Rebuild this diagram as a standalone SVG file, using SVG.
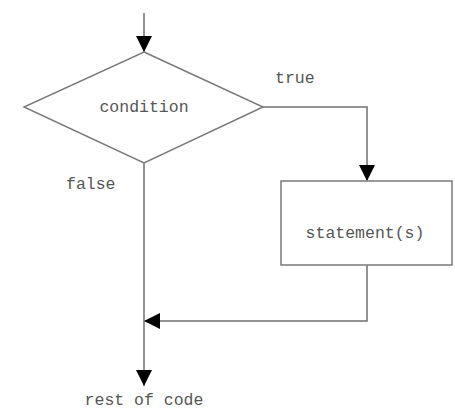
<svg xmlns="http://www.w3.org/2000/svg" width="455" height="409" viewBox="0 0 455 409">
<defs>
<style>
.ln{fill:none;stroke:#707070;stroke-width:1.5}
.sh{fill:#fff;stroke:#7a7a7a;stroke-width:1.5}
.t{font-family:"Liberation Mono","DejaVu Sans Mono",monospace;font-size:16.5px;fill:#555}
</style>
<marker id="ah" viewBox="0 0 10 10" refX="10" refY="5" markerWidth="16" markerHeight="16" markerUnits="userSpaceOnUse" orient="auto">
<path d="M0,0 L10,5 L0,10 Z" fill="#000"/>
</marker>
</defs>
<rect width="455" height="409" fill="#fff"/>
<g id="connectors">
<path class="ln" d="M144,13 V52" marker-end="url(#ah)"/>
<path class="ln" d="M263,107 H367 V181" marker-end="url(#ah)"/>
<path class="ln" d="M367,265 V321 H144" marker-end="url(#ah)"/>
<path class="ln" d="M144,163 V386" marker-end="url(#ah)"/>
</g>
<g id="condition">
<polygon class="sh" points="144,52 263,107 144,163 24,107"/>
<text class="t" x="144" y="112" text-anchor="middle">condition</text>
</g>
<g id="statements">
<rect class="sh" x="281" y="181" width="171" height="84"/>
<text class="t" x="365" y="238" text-anchor="middle">statement(s)</text>
</g>
<g id="labels">
<text class="t" x="275" y="83">true</text>
<text class="t" x="66" y="189">false</text>
<text class="t" x="144" y="405" text-anchor="middle">rest of code</text>
</g>
</svg>
